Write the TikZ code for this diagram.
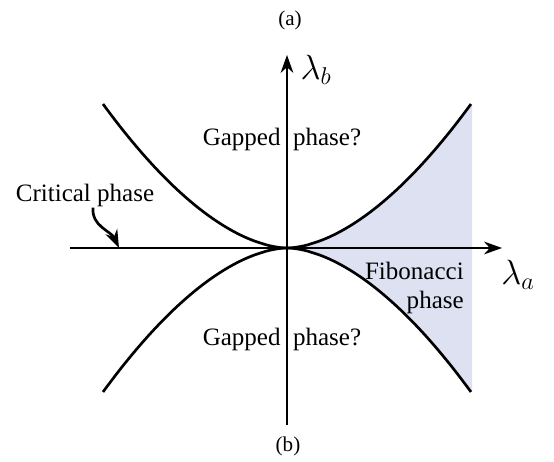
\documentclass[tikz,border=0pt]{standalone}
\usepackage{amsmath,amssymb}
\usepackage{fontspec}
\setmainfont{Liberation Serif}
\usetikzlibrary{arrows.meta}
\definecolor{fibshade}{RGB}{221,225,241}

\begin{document}
\begin{tikzpicture}[scale=1,
  txt/.style={inner sep=0pt,font=\fontsize{17.8}{20.6}\selectfont},
  lam/.style={inner sep=0pt,font=\fontsize{25.6}{30}\selectfont},
  tag/.style={inner sep=0pt,font=\fontsize{15}{17}\selectfont}]

\useasboundingbox (-7.175,-5.35) rectangle (6.675,6.2);

% Fibonacci region
\fill[fibshade] (0,0) -- plot[domain=0.05:4.6,samples=50] (\x,{3.6*(\x/4.6)^1.75})
  -- (4.625,3.6) -- (4.625,-3.6)
  -- plot[domain=4.6:0.05,samples=50] (\x,{-3.6*(\x/4.6)^1.75}) -- cycle;

% Axes
\draw[line width=1pt,-{Stealth[length=4.5mm,width=3.2mm]}] (-5.425,0)--(5.375,0);
\draw[line width=1pt,-{Stealth[length=4.5mm,width=3.2mm]}] (0,-4.425)--(0,4.825);

% Phase boundaries
\foreach \sx in {1,-1}
{
\foreach \sy in {1,-1}
{
\draw[line width=1.9pt] (0,0) -- plot[domain=0.05:4.6,samples=50] ({\sx*\x},{\sy*3.6*(\x/4.6)^1.75});
}
}

% Axis labels
\node[lam] (la) at (5.775,-0.675) {$\lambda_a$};
\node[lam] (lb) at (0.725,4.45) {$\lambda_b$};

% Phases
\node[txt,anchor=base] (gapup) at (-0.125,2.55) {Gapped\enspace phase?};
\node[txt,anchor=base] (gapdown) at (-0.125,-2.45) {Gapped\enspace phase?};
\node[txt,anchor=north east,align=right] (fib) at (4.425,-0.35) {Fibonacci\\phase};
\node[txt,anchor=base] (crit) at (-5.05,1.15) {Critical phase};
\coordinate (critpt) at (-4.2,0);
\draw[line width=1.9pt,-{Stealth[length=4.5mm,width=3.2mm]}] ([xshift=2mm]crit.south) to[out=-95,in=115] (critpt);

% Panel tags
\node[tag] (a) at (0.075,5.7) {(a)};
\node[tag] (b) at (0.025,-4.95) {(b)};

\end{tikzpicture}
\end{document}
